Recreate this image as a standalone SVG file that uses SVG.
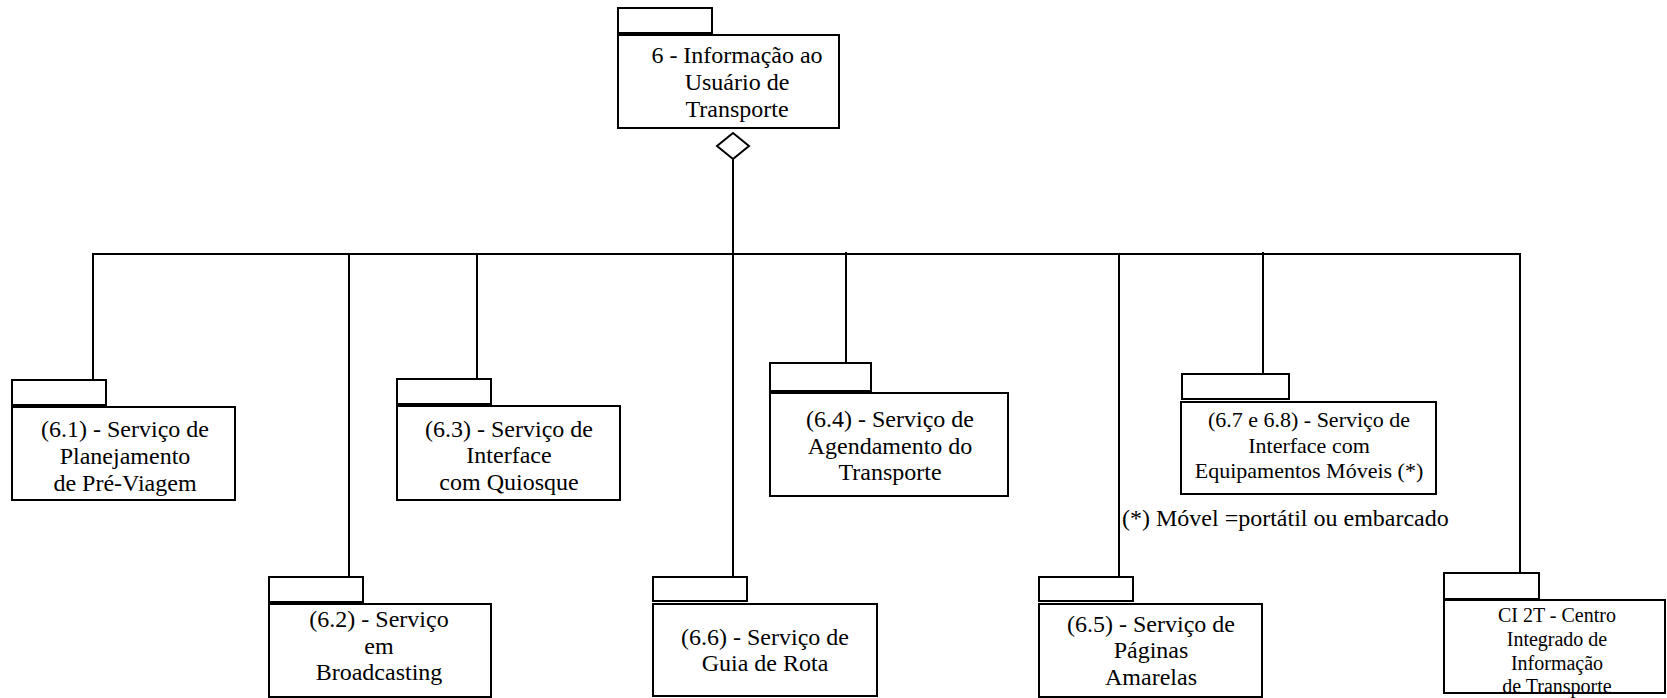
<svg xmlns="http://www.w3.org/2000/svg" width="1667" height="698" viewBox="0 0 1667 698">
<style>
.b{fill:#fff;stroke:#000;stroke-width:2}
.c{fill:none;stroke:#000;stroke-width:2}
text{font-family:"Liberation Serif","Times New Roman",serif;font-size:24px;fill:#000;text-anchor:middle}
.s{font-size:22px}
.t{font-size:20px}
</style>
<rect width="1667" height="698" fill="#fff"/>
<g id="connectors">
<polygon class="c" points="733,133 749,146 733,159 717,146"/>
<line class="c" x1="733" y1="159" x2="733" y2="577"/>
<line class="c" x1="92" y1="254" x2="1521" y2="254"/>
<line class="c" x1="93" y1="254" x2="93" y2="380"/>
<line class="c" x1="349" y1="254" x2="349" y2="577"/>
<line class="c" x1="477" y1="254" x2="477" y2="379"/>
<line class="c" x1="846" y1="252" x2="846" y2="363"/>
<line class="c" x1="1119" y1="254" x2="1119" y2="577"/>
<line class="c" x1="1263" y1="252" x2="1263" y2="374"/>
<line class="c" x1="1520" y1="253" x2="1520" y2="573"/>
</g>
<g id="n6">
<rect class="b" x="618" y="8" width="94" height="25"/>
<rect class="b" x="618" y="35" width="221" height="93"/>
<text x="737" y="63">6 - Informação ao</text>
<text x="737" y="90">Usuário de</text>
<text x="737" y="117">Transporte</text>
</g>
<g id="n61">
<rect class="b" x="12" y="380" width="94" height="25"/>
<rect class="b" x="12" y="407" width="223" height="93"/>
<text x="125" y="437">(6.1) - Serviço de</text>
<text x="125" y="464">Planejamento</text>
<text x="125" y="491">de Pré-Viagem</text>
</g>
<g id="n63">
<rect class="b" x="397" y="379" width="94" height="25"/>
<rect class="b" x="397" y="406" width="223" height="94"/>
<text x="509" y="437">(6.3) - Serviço de</text>
<text x="509" y="463">Interface</text>
<text x="509" y="490">com Quiosque</text>
</g>
<g id="n64">
<rect class="b" x="770" y="363" width="101" height="28"/>
<rect class="b" x="770" y="393" width="238" height="103"/>
<text x="890" y="427">(6.4) - Serviço de</text>
<text x="890" y="454">Agendamento do</text>
<text x="890" y="480">Transporte</text>
</g>
<g id="n678">
<rect class="b" x="1182" y="374" width="107" height="25"/>
<rect class="b" x="1181" y="402" width="255" height="92"/>
<text class="s" x="1309" y="427">(6.7 e 6.8) - Serviço de</text>
<text class="s" x="1309" y="453">Interface com</text>
<text class="s" x="1309" y="478">Equipamentos Móveis (*)</text>
</g>
<text x="1122" y="526" style="text-anchor:start">(*) Móvel =portátil ou embarcado</text>
<g id="n62">
<rect class="b" x="269" y="577" width="94" height="25"/>
<rect class="b" x="269" y="604" width="222" height="93"/>
<text x="379" y="627">(6.2) - Serviço</text>
<text x="379" y="654">em</text>
<text x="379" y="680">Broadcasting</text>
</g>
<g id="n66">
<rect class="b" x="653" y="577" width="94" height="24"/>
<rect class="b" x="653" y="604" width="224" height="92"/>
<text x="765" y="645">(6.6) - Serviço de</text>
<text x="765" y="671">Guia de Rota</text>
</g>
<g id="n65">
<rect class="b" x="1039" y="577" width="94" height="24"/>
<rect class="b" x="1039" y="604" width="223" height="93"/>
<text x="1151" y="632">(6.5) - Serviço de</text>
<text x="1151" y="658">Páginas</text>
<text x="1151" y="685">Amarelas</text>
</g>
<g id="nci2t">
<rect class="b" x="1444" y="573" width="95" height="26"/>
<rect class="b" x="1444" y="600" width="221" height="93"/>
<text class="t" x="1557" y="622">CI 2T - Centro</text>
<text class="t" x="1557" y="646">Integrado de</text>
<text class="t" x="1557" y="670">Informação</text>
<text class="t" x="1557" y="693">de Transporte</text>
</g>
</svg>
